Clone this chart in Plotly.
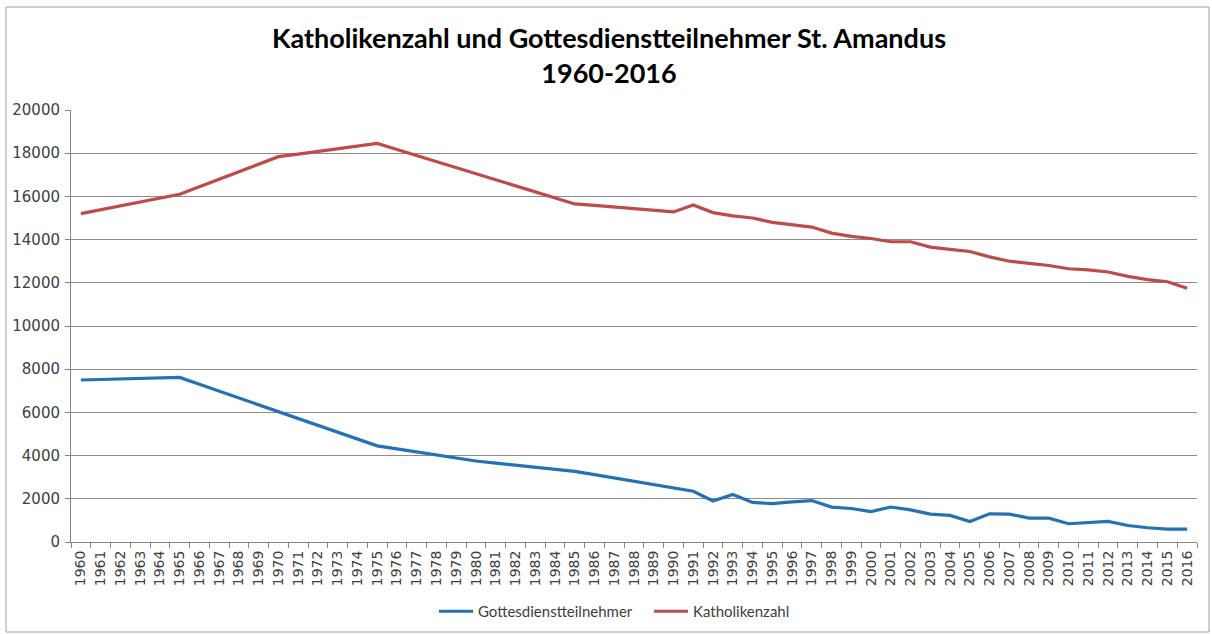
import plotly.graph_objects as go

years = [str(y) for y in range(1960, 2017)]

katholiken = [
    15200, 15380, 15560, 15740, 15920, 16100,   # 1960-1965
    16450, 16800, 17150, 17500, 17840,          # 1966-1970
    17960, 18080, 18200, 18320, 18450,          # 1971-1975
    18170, 17890, 17610, 17330, 17050,          # 1976-1980
    16770, 16490, 16210, 15930, 15650,          # 1981-1985
    15580, 15500, 15430, 15350, 15280,          # 1986-1990
    15600, 15250, 15100, 15000, 14800,          # 1991-1995
    14700, 14580, 14300, 14150, 14050,          # 1996-2000
    13900, 13900, 13650, 13550, 13450,          # 2001-2005
    13200, 13000, 12900, 12800, 12650,          # 2006-2010
    12600, 12500, 12300, 12150, 12050,          # 2011-2015
    11750,                                      # 2016
]

gottesdienst = [
    7500, 7520, 7550, 7570, 7600, 7620,         # 1960-1965
    7300, 6980, 6660, 6350, 6040,               # 1966-1970
    5720, 5400, 5080, 4760, 4450,               # 1971-1975
    4310, 4170, 4030, 3890, 3750,               # 1976-1980
    3650, 3560, 3460, 3370, 3270,               # 1981-1985
    3120, 2970, 2810, 2660, 2500,               # 1986-1990
    2350, 1900, 2200, 1830, 1780,               # 1991-1995
    1860, 1920, 1615, 1550, 1410,               # 1996-2000
    1620, 1490, 1290, 1230, 950,                # 2001-2005
    1305, 1290, 1105, 1105, 845,                # 2006-2010
    905, 950, 765, 660, 600,                    # 2011-2015
    600,                                        # 2016
]

y_ticks = [0, 2000, 4000, 6000, 8000, 10000, 12000, 14000, 16000, 18000, 20000]

title_text = "Katholikenzahl und Gottesdienstteilnehmer St. Amandus<br>1960-2016"

fig = go.Figure()
fig.add_trace(go.Scatter(
    x=years, y=gottesdienst, mode="lines", name="Gottesdienstteilnehmer",
    line=dict(color="#2471B4", width=3.2),
))
fig.add_trace(go.Scatter(
    x=years, y=katholiken, mode="lines", name="Katholikenzahl",
    line=dict(color="#BE4B48", width=3.2),
))

W, H = 1212, 634
ml, mr, mt, mb = 71, 15, 110, 92
pw, ph = W - ml - mr, H - mt - mb

def px_x(x):
    return (x - ml) / pw

def px_y(y):
    return (H - mb - y) / ph

fig.update_layout(
    width=W, height=H,
    margin=dict(l=ml, r=mr, t=mt, b=mb, autoexpand=False),
    paper_bgcolor="white", plot_bgcolor="white",
    title=dict(
        text=title_text, x=px_x(609), xref="paper", xanchor="center",
        y=1 - 48 / H, yanchor="top",
        font=dict(family="Lato", size=27, color="#000000", weight="bold"),
    ),
    font=dict(family="DejaVu Sans", color="#404040"),
    showlegend=True,
    legend=dict(
        orientation="h", x=px_x(434), xanchor="left", y=px_y(595), yanchor="top",
        font=dict(family="Lato", size=15, color="#404040"),
        bgcolor="rgba(0,0,0,0)", itemwidth=34, entrywidth=166,
    ),
    xaxis=dict(
        type="category", tickangle=-90, tickson="boundaries",
        ticks="outside", ticklen=5, tickcolor="#868686",
        showline=True, linecolor="#868686", linewidth=1,
        showgrid=False, tickfont=dict(size=14, color="#404040"),
        ticklabelstandoff=2,
        range=[-0.5, len(years) - 0.5],
    ),
    yaxis=dict(
        range=[0, 20000], tickvals=y_ticks, ticktext=[str(v) for v in y_ticks],
        ticks="outside", ticklen=5, tickcolor="#868686",
        showline=True, linecolor="#868686", linewidth=1,
        showgrid=True, gridcolor="#8C8C8C", gridwidth=1,
        tickfont=dict(size=15, color="#404040"), zeroline=False,
        ticklabelstandoff=2,
    ),
    shapes=[dict(
        type="rect", xref="paper", yref="paper",
        x0=px_x(6), x1=px_x(1209), y0=px_y(632), y1=px_y(7),
        line=dict(color="#A0A0A0", width=1), layer="below",
    )],
)

fig.write_html(
    "out.html",
    config={"displayModeBar": False},
    post_script="document.body.style.margin='0';document.body.style.overflow='hidden';",
)
